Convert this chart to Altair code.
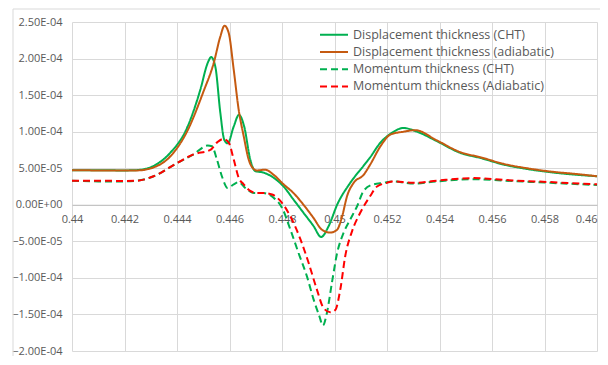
import altair as alt
import pandas as pd

series_names = [
    "Displacement thickness (CHT)",
    "Displacement thickness (adiabatic)",
    "Momentum thickness (CHT)",
    "Momentum thickness (Adiabatic)",
]
series_colors = ["#00b050", "#c55a11", "#00b050", "#ff0000"]
series_dash = [[1, 0], [1, 0], [7, 4], [7, 4]]

disp_cht_x = [0.4400, 0.4410, 0.4420, 0.4425, 0.4431, 0.44374, 0.44438, 0.44489, 0.44517, 0.4453,
              0.44546, 0.44565, 0.4458, 0.44593, 0.44616, 0.44636, 0.44656, 0.44679, 0.44698, 0.4473,
              0.44768, 0.44806, 0.44844, 0.44882, 0.4492, 0.44949, 0.44978, 0.4501, 0.4506, 0.4511,
              0.45136, 0.45175, 0.45213, 0.45263, 0.45314, 0.4539, 0.45479, 0.45556, 0.45644, 0.45733,
              0.45835, 0.45924, 0.4600]
disp_cht_y = [4.72e-5, 4.72e-5, 4.70e-5, 4.75e-5, 5.3e-5, 7.1e-5, 1.05e-4, 1.575e-4, 1.94e-4, 2.02e-4,
              1.89e-4, 1.26e-4, 8.9e-5, 8.4e-5, 1.07e-4, 1.23e-4, 1.07e-4, 6.2e-5, 4.6e-5, 4.4e-5,
              3.7e-5, 2.5e-5, 7e-6, -1.1e-5, -2.9e-5, -4.4e-5, -2.9e-5, 0.0, 3.0e-5, 5.3e-5,
              6.5e-5, 8.5e-5, 9.7e-5, 1.05e-4, 1.0e-4, 8.7e-5, 7.1e-5, 6.4e-5, 5.5e-5, 4.9e-5,
              4.4e-5, 4.1e-5, 3.9e-5]

disp_adi_x = [0.4400, 0.4410, 0.4420, 0.4425, 0.4431, 0.44374, 0.44438, 0.44501, 0.4454, 0.44565,
              0.44581, 0.44597, 0.44616, 0.44635, 0.44654, 0.44673, 0.44692, 0.44705, 0.44736, 0.44768,
              0.44806, 0.44844, 0.44882, 0.4492, 0.44952, 0.44984, 0.4501, 0.45029, 0.45048, 0.45073,
              0.45111, 0.45136, 0.45175, 0.45213, 0.45263, 0.45308, 0.4539, 0.45479, 0.45556, 0.45644,
              0.45733, 0.45835, 0.45924, 0.4600]
disp_adi_y = [4.72e-5, 4.70e-5, 4.68e-5, 4.7e-5, 5.1e-5, 6.6e-5, 1.0e-4, 1.55e-4, 1.94e-4, 2.30e-4,
              2.45e-4, 2.35e-4, 1.85e-4, 1.30e-4, 9.4e-5, 6.2e-5, 4.9e-5, 4.7e-5, 4.8e-5, 4.1e-5,
              2.8e-5, 1.6e-5, 0.0, -1.8e-5, -3.4e-5, -3.8e-5, -3.4e-5, -1.6e-5, 1.2e-5, 3.0e-5,
              4.1e-5, 5.5e-5, 8.0e-5, 9.6e-5, 1.0e-4, 1.02e-4, 8.8e-5, 7.2e-5, 6.5e-5, 5.6e-5,
              5.0e-5, 4.5e-5, 4.2e-5, 3.9e-5]

mom_cht_x = [0.4400, 0.4410, 0.4420, 0.4425, 0.44311, 0.4440, 0.44463, 0.44517, 0.44533, 0.44552,
             0.44571, 0.44593, 0.44616, 0.44635, 0.4466, 0.44692, 0.4473, 0.44768, 0.4480, 0.44832,
             0.44863, 0.44895, 0.4492, 0.44942, 0.44956, 0.44971, 0.4499, 0.4501, 0.45035, 0.4506,
             0.45086, 0.45111, 0.45149, 0.45187, 0.45219, 0.45301, 0.4539, 0.4553, 0.45644, 0.45822,
             0.4600]
mom_cht_y = [3.3e-5, 3.2e-5, 3.2e-5, 3.3e-5, 3.9e-5, 5.7e-5, 6.9e-5, 8.1e-5, 8.0e-5, 6.2e-5,
             3.9e-5, 2.3e-5, 2.8e-5, 3.1e-5, 2.3e-5, 1.6e-5, 1.6e-5, 9.6e-6, -4e-6, -3.4e-5,
             -6.6e-5, -9.8e-5, -1.29e-4, -1.52e-4, -1.65e-4, -1.48e-4, -1.07e-4, -6.6e-5, -3.8e-5, -2.0e-5,
             -2e-6, 1.9e-5, 2.8e-5, 3.0e-5, 3.2e-5, 2.9e-5, 3.2e-5, 3.5e-5, 3.3e-5, 3.0e-5,
             2.7e-5]

mom_adi_x = [0.4400, 0.4410, 0.4420, 0.4425, 0.44311, 0.4440, 0.44463, 0.44527, 0.44552, 0.44575,
             0.44597, 0.44616, 0.44635, 0.44654, 0.44679, 0.44705, 0.4473, 0.44762, 0.4480, 0.44832,
             0.4487, 0.44901, 0.44933, 0.44958, 0.44984, 0.45003, 0.45022, 0.45041, 0.45067, 0.45098,
             0.45136, 0.45162, 0.4520, 0.4522, 0.4530, 0.4539, 0.4553, 0.45644, 0.45822, 0.4600]
mom_adi_y = [3.3e-5, 3.3e-5, 3.25e-5, 3.3e-5, 3.9e-5, 5.7e-5, 6.9e-5, 7.5e-5, 8.5e-5, 9.0e-5,
             8.5e-5, 6.2e-5, 3.7e-5, 2.8e-5, 1.9e-5, 1.6e-5, 1.6e-5, 1.4e-5, 2.7e-6, -1.6e-5,
             -4.7e-5, -7.9e-5, -1.16e-4, -1.41e-4, -1.47e-4, -1.44e-4, -1.16e-4, -7.0e-5, -3.6e-5, -1.1e-5,
             1.2e-5, 2.5e-5, 3.0e-5, 3.2e-5, 3.0e-5, 3.3e-5, 3.65e-5, 3.4e-5, 3.1e-5, 2.8e-5]

x_ticks = [0.440, 0.442, 0.444, 0.446, 0.448, 0.450, 0.452, 0.454, 0.456, 0.458, 0.460]
y_ticks = [-2.0e-4, -1.5e-4, -1.0e-4, -5.0e-5, 0.0, 5.0e-5, 1.0e-4, 1.5e-4, 2.0e-4, 2.5e-4]

frames = []
for name, xs, ys in zip(series_names,
                        [disp_cht_x, disp_adi_x, mom_cht_x, mom_adi_x],
                        [disp_cht_y, disp_adi_y, mom_cht_y, mom_adi_y]):
    frames.append(pd.DataFrame({"x": xs, "y": ys, "series": name}))
df = pd.concat(frames, ignore_index=True)
legend_df = pd.DataFrame({"series": series_names, "row": list(range(len(series_names)))})

W, H = 525, 329
FONT = "Open Sans"
LABEL = "#595959"

xscale = alt.Scale(domain=[0.44, 0.46], nice=False, zero=False)
yscale = alt.Scale(domain=[-2.0e-4, 2.5e-4], nice=False, zero=False)
cscale = alt.Scale(domain=series_names, range=series_colors)
dscale = alt.Scale(domain=series_names, range=series_dash)

frame = alt.Chart(pd.DataFrame({"a": [0]})).mark_rect(
    fill="transparent", stroke="#d9d9d9", strokeWidth=1
).encode(x=alt.value(-59), x2=alt.value(600), y=alt.value(-13), y2=alt.value(400))

lines = alt.Chart(df).mark_line(strokeWidth=2, interpolate="monotone").encode(
    x=alt.X("x:Q", scale=xscale,
            axis=alt.Axis(values=x_ticks, grid=True, gridColor="#d9d9d9", labels=False,
                          ticks=False, domain=False, title=None)),
    y=alt.Y("y:Q", scale=yscale,
            axis=alt.Axis(values=y_ticks, grid=True, gridColor="#d9d9d9", ticks=False,
                          domain=False, title=None, labelPadding=10,
                          labelExpr="replace(replace(upper(format(datum.value, '.2e')), 'E-', 'E-0'), 'E+', 'E+0')",
                          labelColor=LABEL, labelFont=FONT, labelFontSize=11)),
    color=alt.Color("series:N", scale=cscale, legend=None),
    strokeDash=alt.StrokeDash("series:N", scale=dscale, legend=None),
)

xlabels = alt.Chart(df).mark_point(opacity=0).encode(
    x=alt.X("x:Q", scale=xscale,
            axis=alt.Axis(orient="bottom", values=x_ticks, grid=False, ticks=False, domain=True,
                          domainColor="#bfbfbf", offset=-(H * 2.0 / 4.5), format=".3~f",
                          labelFlush=False, labelOverlap=False,
                          labelAlign={"condition": {"test": "datum.value > 0.4595", "value": "right"},
                                      "value": "center"},
                          labelColor=LABEL, labelFont=FONT, labelFontSize=11, labelPadding=9,
                          title=None)),
)

legend_y = alt.Y("row:Q", scale=alt.Scale(domain=[0, 3], range=[12.7, 64.4]), axis=None)
legend_rules = alt.Chart(legend_df).mark_rule(strokeWidth=2).encode(
    x=alt.value(248), x2=alt.value(276), y=legend_y,
    color=alt.Color("series:N", scale=cscale, legend=None),
    strokeDash=alt.StrokeDash("series:N", scale=dscale, legend=None),
)
legend_text = alt.Chart(legend_df).mark_text(
    align="left", baseline="middle", font=FONT, fontSize=12.5, color=LABEL
).encode(x=alt.value(281), y=legend_y, text="series:N")

chart = alt.layer(frame, lines, xlabels, legend_rules, legend_text).resolve_axis(
    x="independent"
).resolve_scale(y="independent").properties(
    width=W, height=H,
    autosize=alt.AutoSizeParams(type="none"),
    padding={"left": 64, "top": 14, "right": 3, "bottom": 5},
).configure_view(stroke="transparent")

chart.save("out.html", embed_options={"renderer": "svg", "actions": False})
